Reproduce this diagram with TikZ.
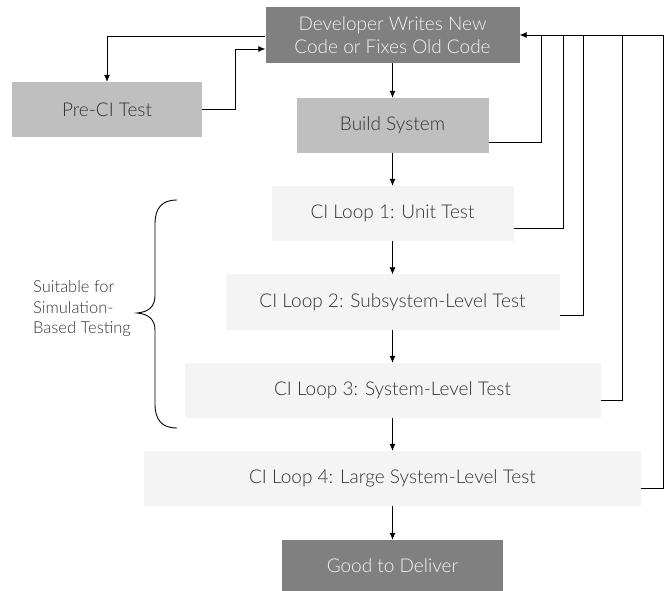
\documentclass[tikz,border=0pt]{standalone}
\usepackage{fontspec}
\setmainfont{Lato Light}
\usetikzlibrary{arrows.meta}
\definecolor{darkbox}{HTML}{808080}
\definecolor{midbox}{HTML}{BFBFBF}
\definecolor{lightbox}{HTML}{F3F4F3}
\definecolor{txtdark}{HTML}{333333}
\definecolor{txtlight}{HTML}{F4F4F4}
\tikzset{
  box/.style={rectangle, inner sep=0pt, align=center, font=\fontsize{19}{23}\selectfont},
  darkb/.style={box, fill=darkbox, text=txtlight},
  midb/.style={box, fill=midbox, text=txtdark},
  lightb/.style={box, fill=lightbox, text=txtdark},
  conn/.style={draw=black, line width=0.8pt},
  arr/.style={conn, -{Latex[length=7pt,width=6pt]}},
}
\begin{document}
\begin{tikzpicture}[x=1pt,y=-1pt]
\useasboundingbox (0,0) rectangle (665,591);
\node[darkb, minimum width=254pt, minimum height=56pt] (dev) at (392.5,35) {Developer Writes New\\Code or Fixes Old Code};
\node[midb, minimum width=190pt, minimum height=55pt] (pre) at (107,109.5) {Pre-CI Test};
\node[midb, minimum width=192pt, minimum height=55pt] (build) at (392.5,125.5) {Build System};
\node[lightb, minimum width=242pt, minimum height=55pt] (ci1) at (392.5,213.5) {CI Loop 1: Unit Test};
\node[lightb, minimum width=334pt, minimum height=55pt] (ci2) at (392.5,302) {CI Loop 2: Subsystem-Level Test};
\node[lightb, minimum width=416pt, minimum height=55pt] (ci3) at (392.5,390.5) {CI Loop 3: System-Level Test};
\node[lightb, minimum width=497pt, minimum height=55pt] (ci4) at (392.5,478.5) {CI Loop 4: Large System-Level Test};
\node[darkb, minimum width=221pt, minimum height=51pt] (good) at (392.5,565.5) {Good to Deliver};

\node[anchor=west, align=left, inner sep=0pt, text=txtdark, font=\fontsize{16.5}{20.5}\selectfont] (suit) at (33,309) {Suitable for\\Simulation-\\Based Testing};

% down arrows
\draw[arr] (dev.south) -- (build.north);
\draw[arr] (build.south) -- (ci1.north);
\draw[arr] (ci1.south) -- (ci2.north);
\draw[arr] (ci2.south) -- (ci3.north);
\draw[arr] (ci3.south) -- (ci4.north);
\draw[arr] (ci4.south) -- (good.north);

% pre-CI loop
\draw[arr] ([yshift=-1pt]dev.west) -| (pre.north);
\draw[arr] (pre.east) -- ++(33,0) |- ([yshift=-14pt]dev.west);

% feedback loops
\coordinate (top) at (663,35);
\draw[conn] ([yshift=-16.5pt]build.east) -| (541,35);
\draw[conn] ([yshift=-14.5pt]ci1.east) -| (563,35);
\draw[conn] ([yshift=-13pt]ci2.east) -| (583,35);
\draw[conn] ([yshift=-10pt]ci3.east) -| (622,35);
\draw[conn] ([yshift=-9.5pt]ci4.east) -| (top);
\draw[arr] (top) -- (dev.east);

% brace
\draw[conn, line width=0.9pt] (177,200) .. controls (162,200) and (155,208) .. (155,224) -- (155,296)
  .. controls (155,306) and (149,312) .. (137,313)
  .. controls (149,314) and (155,320) .. (155,330) -- (155,404)
  .. controls (155,420) and (162,428) .. (177,428);
\end{tikzpicture}
\end{document}
